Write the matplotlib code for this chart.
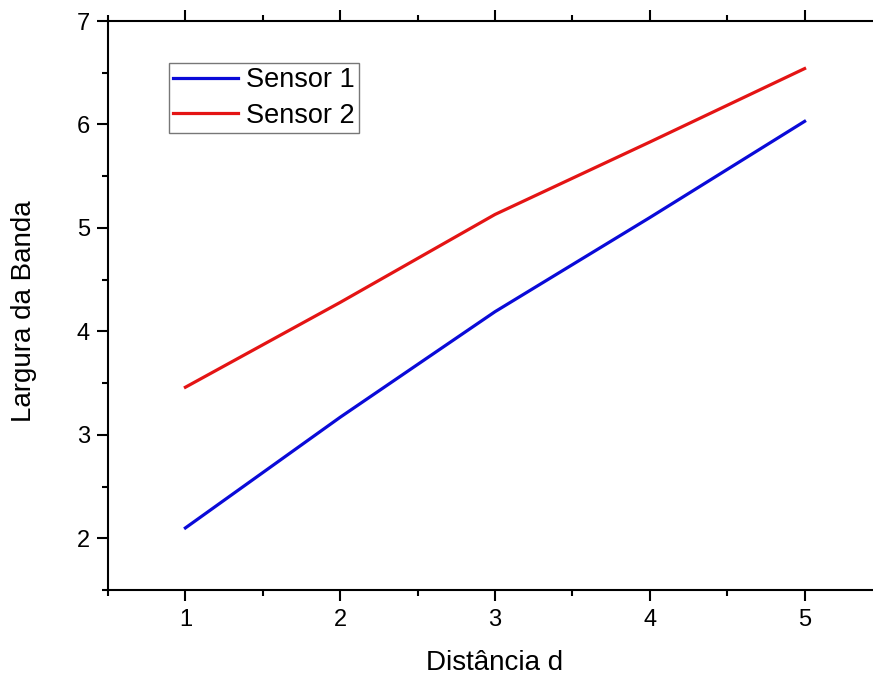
import matplotlib
matplotlib.use("Agg")
import matplotlib.pyplot as plt
from matplotlib.ticker import MultipleLocator

plt.rcParams['font.family'] = ['Liberation Sans', 'DejaVu Sans']

distance = [1, 2, 3, 4, 5]
sensor1 = [2.10, 3.17, 4.19, 5.10, 6.03]
sensor2 = [3.46, 4.28, 5.13, 5.83, 6.54]
labels = ["Sensor 1", "Sensor 2"]
x_label = "Distância d"
y_label = "Largura da Banda"

W, H = 873, 677
fig = plt.figure(figsize=(W / 100, H / 100), dpi=100)
ax = fig.add_axes([108 / W, 1 - 590 / H, (882 - 108) / W, (590 - 21) / H])

ax.plot(distance, sensor1, color='#0a0ad8', lw=2.3, label=labels[0])
ax.plot(distance, sensor2, color='#e41414', lw=2.3, label=labels[1])

ax.set_xlim(0.5, 5.5)
ax.set_ylim(1.5, 7)
ax.xaxis.set_major_locator(MultipleLocator(1))
ax.xaxis.set_minor_locator(MultipleLocator(0.5))
ax.yaxis.set_major_locator(MultipleLocator(1))
ax.yaxis.set_minor_locator(MultipleLocator(0.5))

for s in ax.spines.values():
    s.set_linewidth(1.5)
ax.spines['right'].set_visible(False)

ax.tick_params(which='both', direction='out', top=True, right=False,
               labeltop=False, width=1.5, labelsize=17)
ax.tick_params(which='major', length=8)
ax.tick_params(which='minor', length=4.5)
ax.tick_params(axis='x', which='major', pad=6)
ax.tick_params(axis='y', which='major', pad=5)

ax.set_xlabel(x_label, fontsize=20)
ax.set_ylabel(y_label, fontsize=20)
ax.xaxis.set_label_coords(0.5, -70 / 569 - 0.005)
ax.yaxis.set_label_coords(-84 / 774, 0.49)
ax.xaxis.label.set_verticalalignment('center')
ax.yaxis.label.set_verticalalignment('center')

leg = ax.legend(loc='upper left', bbox_to_anchor=(61 / 774, (590 - 63) / 569),
                fontsize=19.5, frameon=True, fancybox=False, shadow=False,
                borderaxespad=0, borderpad=0.15, handlelength=2.4,
                handletextpad=0.3, labelspacing=0.35)
leg.get_frame().set_edgecolor('#555555')
leg.get_frame().set_linewidth(1.0)

fig.savefig("out.png", dpi=100)
